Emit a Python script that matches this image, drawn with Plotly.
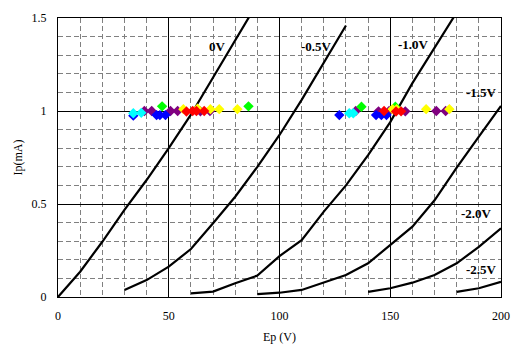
import plotly.graph_objects as go

# Plate curves (Ep in V, Ip in mA) for each grid voltage
ep_0v = [0, 10, 20, 30, 40, 50, 60, 70, 80, 90]
ip_0v = [0, 0.136, 0.297, 0.468, 0.629, 0.80, 0.98, 1.18, 1.38, 1.58]

ep_m05 = [30, 40, 50, 60, 70, 80, 90, 100, 110, 120, 130]
ip_m05 = [0.038, 0.091, 0.163, 0.258, 0.397, 0.539, 0.70, 0.871, 1.06, 1.26, 1.46]

ep_m10 = [60, 70, 80, 90, 100, 110, 120, 130, 140, 150, 160, 170, 180]
ip_m10 = [0.02, 0.029, 0.074, 0.115, 0.22, 0.306, 0.459, 0.60, 0.763, 0.94, 1.15, 1.34, 1.53]

ep_m15 = [90, 100, 110, 120, 130, 140, 150, 160, 170, 180, 190, 200]
ip_m15 = [0.015, 0.023, 0.038, 0.077, 0.118, 0.181, 0.28, 0.378, 0.52, 0.695, 0.862, 1.027]

ep_m20 = [140, 150, 160, 170, 180, 190, 200]
ip_m20 = [0.028, 0.047, 0.077, 0.118, 0.181, 0.27, 0.369]

ep_m25 = [180, 190, 200]
ip_m25 = [0.028, 0.047, 0.082]

curve_labels = ["0V", "-0.5V", "-1.0V", "-1.5V", "-2.0V", "-2.5V"]
label_ep = [72.2, 116.5, 160.7, 191, 189, 191]
label_ip = [1.346, 1.346, 1.355, 1.098, 0.45, 0.149]

# Measured operating points
blue_ep = [34, 44.5, 46, 48.5, 127, 143.6, 146, 148.3]
blue_ip = [0.975, 0.978, 0.978, 0.978, 0.978, 0.978, 0.978, 0.978]
cyan_ep = [34, 37.6, 131.5, 133.3]
cyan_ip = [0.988, 0.99, 0.988, 0.988]
purple_ep = [39, 42.3, 50.8, 54, 64.3, 68.6, 134.4, 144.7, 149.5, 156.8, 170.8, 175]
purple_ip = [1.0, 1.0, 1.0, 1.0, 0.998, 1.0, 1.0, 0.998, 1.0, 0.998, 1.0, 1.0]
green_ep = [47, 86, 137, 152.3]
green_ip = [1.025, 1.025, 1.023, 1.023]
yellow_ep = [56.6, 63, 68.8, 72.8, 81, 151, 152.9, 166.2, 176.7]
yellow_ip = [1.01, 1.012, 1.01, 1.01, 1.01, 1.01, 1.01, 1.01, 1.01]
red_ep = [58, 60.8, 62.5, 66, 147.2, 152.6, 154.9]
red_ip = [0.997, 1.0, 1.0, 1.0, 1.0, 0.997, 0.998]

fig = go.Figure()

for xs, ys in [(ep_0v, ip_0v), (ep_m05, ip_m05), (ep_m10, ip_m10),
               (ep_m15, ip_m15), (ep_m20, ip_m20), (ep_m25, ip_m25)]:
    fig.add_trace(go.Scatter(x=xs, y=ys, mode="lines",
                             line=dict(color="black", width=2.2),
                             showlegend=False, hoverinfo="skip"))

for xs, ys, col in [(purple_ep, purple_ip, "#800080"), (blue_ep, blue_ip, "#0000FF"),
                    (cyan_ep, cyan_ip, "#00FFFF"), (green_ep, green_ip, "#00FF00"),
                    (yellow_ep, yellow_ip, "#FFFF00"), (red_ep, red_ip, "#FF0000")]:
    fig.add_trace(go.Scatter(x=xs, y=ys, mode="markers",
                             marker=dict(symbol="diamond", size=8, color=col,
                                         line=dict(width=0)),
                             showlegend=False))

for t, x, y in zip(curve_labels, label_ep, label_ip):
    fig.add_annotation(x=x, y=y, text="<b>" + t + "</b>", showarrow=False,
                       font=dict(family="Liberation Serif", size=13, color="black"))

axis_common = dict(
    showline=True, linecolor="black", linewidth=1, mirror=True,
    showgrid=True, gridcolor="black", gridwidth=1,
    zeroline=False, ticks="", automargin=False,
    tickfont=dict(family="Liberation Serif", size=12, color="black"),
)

fig.update_xaxes(range=[0, 200], dtick=50, tick0=0,
                 minor=dict(dtick=10, showgrid=True, gridcolor="#808080",
                            griddash="5px,3px", gridwidth=1),
                 title=dict(text="Ep (V)", standoff=10,
                            font=dict(family="Liberation Serif", size=12, color="black")),
                 ticklabelstandoff=8,
                 **axis_common)
fig.update_yaxes(range=[0, 1.5], dtick=0.5, tick0=0,
                 minor=dict(dtick=0.1, showgrid=True, gridcolor="#808080",
                            griddash="5px,3px", gridwidth=1),
                 title=dict(text="Ip(mA)", standoff=6,
                            font=dict(family="Liberation Serif", size=12, color="black")),
                 ticklabelstandoff=8,
                 **axis_common)

# The page body adds an 8px offset, so the figure is sized and padded to
# place the plot area where it sits in the reference.
fig.update_layout(
    width=515, height=349,
    margin=dict(l=50, r=22, t=10, b=60),
    paper_bgcolor="white", plot_bgcolor="white",
    showlegend=False,
)

fig.write_html("out.html")
